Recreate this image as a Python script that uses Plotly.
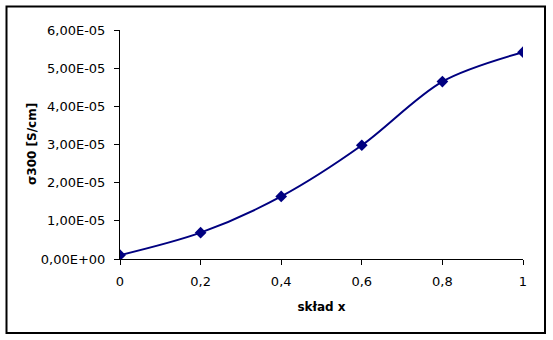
import plotly.graph_objects as go

x_vals = [0, 0.2, 0.4, 0.6, 0.8, 1]
sigma_vals = [1.0e-6, 6.9e-6, 1.64e-5, 2.98e-5, 4.65e-5, 5.42e-5]

x_ticks = [0, 0.2, 0.4, 0.6, 0.8, 1]
x_ticktext = ["0", "0,2", "0,4", "0,6", "0,8", "1"]
y_ticks = [0, 1e-5, 2e-5, 3e-5, 4e-5, 5e-5, 6e-5]
y_ticktext = ["0,00E+00", "1,00E-05", "2,00E-05", "3,00E-05", "4,00E-05", "5,00E-05", "6,00E-05"]

x_title = "skład x"
y_title = "σ300 [S/cm]"

navy = "#000080"
tick_font = dict(family="DejaVu Sans", size=13, color="black")
title_font = dict(family="DejaVu Sans", size=12, color="black")

fig = go.Figure()
fig.add_trace(go.Scatter(
    x=x_vals, y=sigma_vals, mode="lines+markers",
    line=dict(color=navy, width=2, shape="spline", smoothing=0.9),
    marker=dict(symbol="diamond", size=9, color=navy),
    showlegend=False, hoverinfo="skip",
))

W, H = 553, 340
ml, mr, mt, mb = 120, 30, 30, 81
pw, ph = W - ml - mr, H - mt - mb

fig.update_layout(
    width=W, height=H,
    margin=dict(l=ml, r=mr, t=mt, b=mb, pad=0),
    paper_bgcolor="white", plot_bgcolor="white",
    xaxis=dict(
        range=[0, 1], tickvals=x_ticks, ticktext=x_ticktext,
        showgrid=False, zeroline=False, showline=True, linecolor="black", linewidth=1,
        ticks="outside", ticklen=5, tickcolor="black", tickwidth=1,
        tickfont=tick_font, ticklabelstandoff=5,
        title=dict(text="<b>" + x_title + "</b>", font=title_font, standoff=15),
        automargin=False,
    ),
    yaxis=dict(
        range=[0, 6e-5], tickvals=y_ticks, ticktext=y_ticktext,
        showgrid=False, zeroline=False, showline=True, linecolor="black", linewidth=1,
        ticks="outside", ticklen=5, tickcolor="black", tickwidth=1,
        tickfont=tick_font, ticklabelstandoff=6,
        automargin=False,
    ),
    annotations=[dict(
        text="<b>" + y_title + "</b>", font=title_font, textangle=-90,
        xref="paper", yref="paper", x=(32 - ml) / pw, y=(H - mb - 144) / ph,
        xanchor="center", yanchor="middle", showarrow=False,
    )],
    shapes=[dict(
        type="rect", xref="paper", yref="paper",
        x0=(6.5 - ml) / pw, x1=(545 - ml) / pw,
        y0=(H - mb - 333) / ph, y1=(H - mb - 6.5) / ph,
        line=dict(color="black", width=2), fillcolor="rgba(0,0,0,0)", layer="below",
    )],
)

fig.write_html("out.html")
